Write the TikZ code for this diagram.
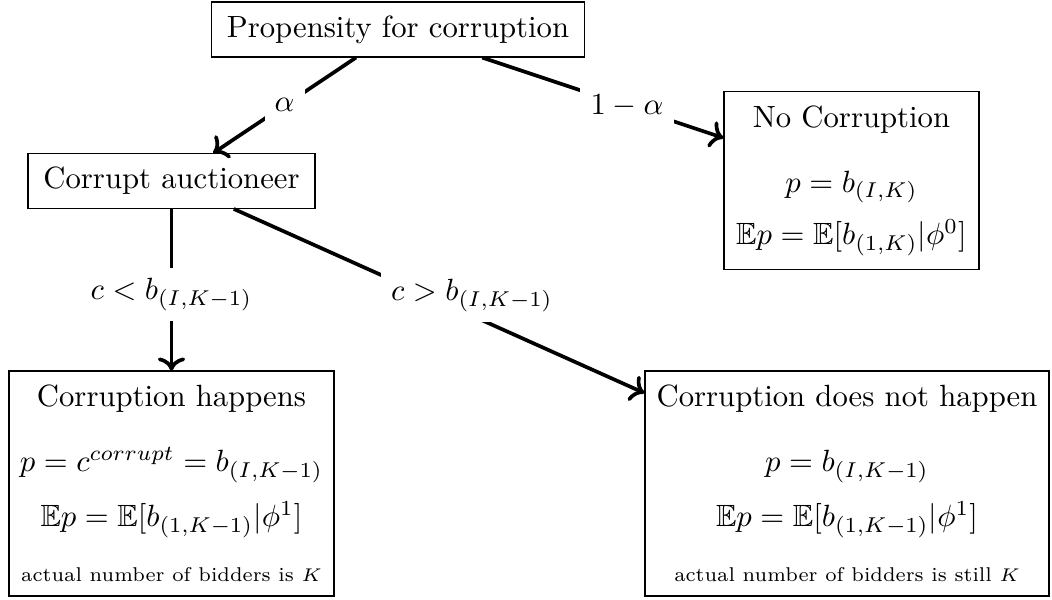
\documentclass[tikz,border=0pt]{standalone}
\usepackage{amsmath,amssymb}
\usepackage{tikz}
\usetikzlibrary{positioning,arrows.meta}

\begin{document}
\begin{tikzpicture}[
  x=0.3257pt, y=-0.3257pt,
  box/.style={draw, thin, inner xsep=5pt, inner ysep=4.4pt, align=center},
  res/.style={box, inner xsep=3pt, inner ysep=4.5pt},
  arr/.style={->, very thick},
  lab/.style={fill=white, midway},
  note/.style={}
]
  \useasboundingbox (0,0) rectangle (1052,600);
  \node[box] (prop) at (398,29.5) {Propensity for corruption};
  \node[box] (auct) at (171.5,181) {Corrupt auctioneer};
  \node[res, minimum width=83pt] (nocorr) at (851.5,180.5)
    {No Corruption\\[9.2pt] $p=b_{(I,K)}$\\[5pt] $\mathbb{E}p=\mathbb{E}[b_{(1,K)}|\phi^0]$};
  \node[res, minimum width=105.8pt] (happ) at (171.5,483.5)
    {Corruption happens\\[9.2pt] $p=c^{corrupt}=b_{(I,K-1)}$\\[6pt] $\mathbb{E}p=\mathbb{E}[b_{(1,K-1)}|\phi^1]$\\[5.9pt]
     {\fontsize{6.5pt}{8pt}\selectfont actual number of bidders is $K$}};
  \node[res, minimum width=131.6pt] (nohapp) at (847,483.5)
    {Corruption does not happen\\[9.2pt] $p=b_{(I,K-1)}$\\[6pt] $\mathbb{E}p=\mathbb{E}[b_{(1,K-1)}|\phi^1]$\\[5.9pt]
     {\fontsize{6.5pt}{8pt}\selectfont actual number of bidders is still $K$}};

  \draw[arr] (prop) -- node[lab] {$\alpha$} (auct);
  \draw[arr] (prop) -- node[lab, pos=0.6] {$1-\alpha$} (nocorr);
  \draw[arr] (auct) -- node[lab, pos=0.53] {$c<b_{(I,K-1)}$} (happ);
  \draw[arr] (auct) -- node[lab, pos=0.58, yshift=6.5pt] {$c>b_{(I,K-1)}$} (nohapp);
\end{tikzpicture}
\end{document}
